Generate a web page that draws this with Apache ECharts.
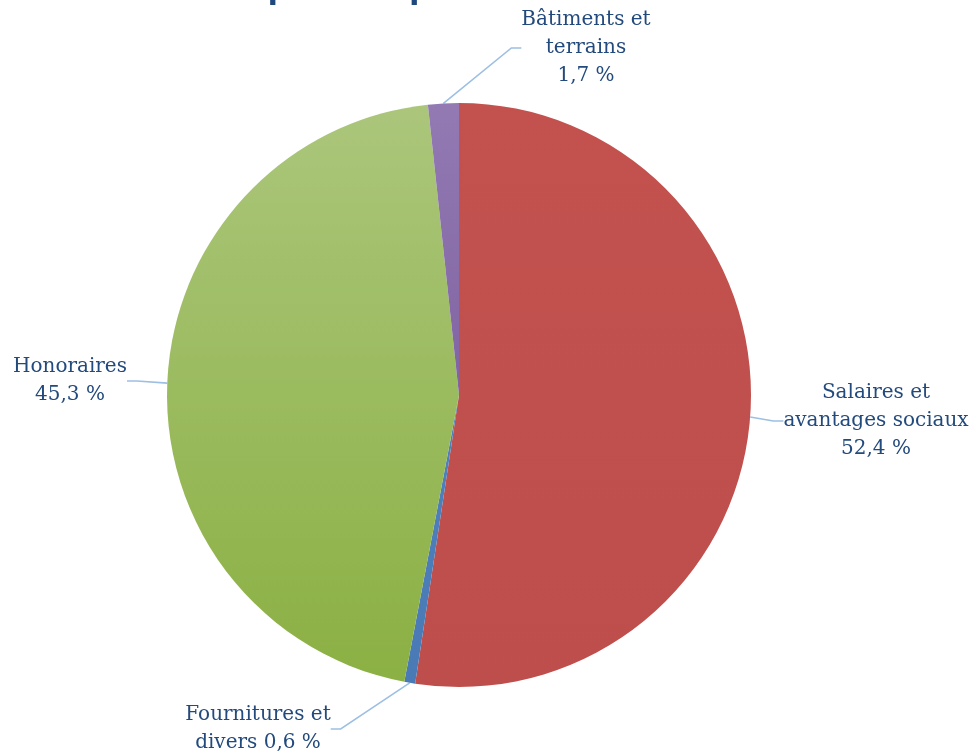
<!DOCTYPE html>
<html lang="fr">
<head>
<meta charset="utf-8">
<title>Dépenses par nature</title>
<script src="https://cdn.jsdelivr.net/npm/echarts@6/dist/echarts.min.js"></script>
<style>
  html, body { margin: 0; padding: 0; background: #ffffff; }
  #chart { width: 971px; height: 753px; }
</style>
</head>
<body>
<div id="chart"></div>
<script>
// Expense categories, in clockwise order starting at 12 o'clock
const categories = [
  'Salaires et\navantages sociaux',
  'Fournitures et\ndivers',
  'Honoraires',
  'Bâtiments et\nterrains'
];
// Share of total expenses (%)
const shares = [52.4, 0.6, 45.3, 1.7];
// How each label joins its name and value
const labelJoins = ['\n', ' ', '\n', '\n'];

const titleText = 'Dépenses par nature';

const fmt = v => v.toFixed(1).replace('.', ',') + ' %';

const grad = (top, bottom) => new echarts.graphic.LinearGradient(0, 0, 0, 1, [
  { offset: 0, color: top }, { offset: 1, color: bottom }
]);
const sliceColors = [
  grad('#C3524F', '#BD4E4B'),
  grad('#4F81BD', '#4A7AB5'),
  grad('#ABC67B', '#8BB043'),
  grad('#937AB3', '#8064A2')
];

// Label anchor placement (centre of each text block)
const labelCenters = [
  [876, 421],
  [258, 729],
  [70, 381],
  [586, 48]
];

const chart = echarts.init(document.getElementById('chart'), null, { renderer: 'canvas' });

chart.setOption({
  animation: false,
  title: {
    text: titleText,
    left: 214,
    top: -37,
    textStyle: {
      fontFamily: 'Liberation Sans',
      fontWeight: 'bold',
      fontSize: 38,
      color: '#1F497D'
    }
  },
  series: [{
    type: 'pie',
    center: [459, 395],
    radius: 292,
    startAngle: 90,
    clockwise: true,
    avoidLabelOverlap: false,
    data: categories.map((name, i) => ({
      name: name,
      value: shares[i],
      itemStyle: { color: sliceColors[i] }
    })),
    label: {
      show: true,
      position: 'outside',
      formatter: p => categories[p.dataIndex] + labelJoins[p.dataIndex] + fmt(p.value),
      fontFamily: 'DejaVu Serif',
      fontSize: 20,
      lineHeight: 28,
      color: '#234A7C',
      align: 'center'
    },
    labelLine: {
      show: true,
      length: 20,
      length2: 10,
      lineStyle: { color: '#9DBFE4', width: 1.6 }
    },
    labelLayout: p => ({
      x: labelCenters[p.dataIndex][0],
      y: labelCenters[p.dataIndex][1],
      align: 'center',
      verticalAlign: 'middle'
    }),
    emphasis: { disabled: true }
  }]
});
</script>
</body>
</html>
